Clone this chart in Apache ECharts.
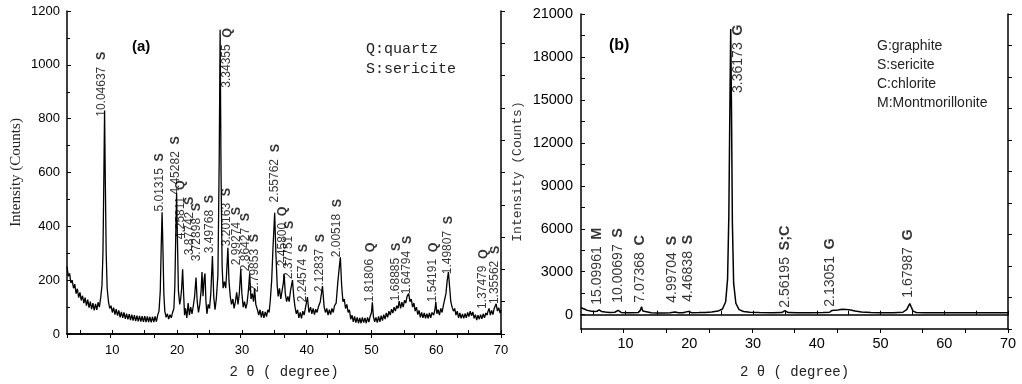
<!DOCTYPE html>
<html>
<head>
<meta charset="utf-8">
<script src="https://cdn.jsdelivr.net/npm/echarts@6/dist/echarts.min.js"></script>
<style>
  html, body { margin: 0; padding: 0; background: #fff; }
  #chart { width: 1022px; height: 384px; }
</style>
</head>
<body>
<div id="chart"></div>
<script>
// (a) sample pattern: [2theta, counts]
const aPattern = [
  [3.0,250],[3.2,215],[3.4,225],[3.6,190],[3.8,200],[4.0,170],[4.2,185],[4.4,150],[4.6,168],[4.8,135],
  [5.0,155],[5.2,125],[5.4,142],[5.6,115],[5.8,135],[6.0,105],[6.2,128],[6.4,98],[6.6,120],[6.8,92],
  [7.0,115],[7.2,88],[7.4,112],[7.6,90],[7.8,118],[8.0,100],[8.2,135],[8.4,180],[8.55,300],[8.68,560],
  [8.8,830],[8.92,560],[9.05,300],[9.2,170],[9.4,120],[9.6,95],[9.8,105],[10.0,80],[10.2,98],[10.4,72],
  [10.6,92],[10.8,68],[11.0,88],[11.2,62],[11.4,82],[11.6,60],[11.8,80],[12.0,56],[12.2,76],[12.4,54],
  [12.6,74],[12.8,52],[13.0,72],[13.2,50],[13.4,70],[13.6,48],[13.8,68],[14.0,47],[14.2,67],[14.4,46],
  [14.6,66],[14.8,45],[15.0,66],[15.2,44],[15.4,65],[15.6,44],[15.8,64],[16.0,43],[16.2,64],[16.4,44],
  [16.6,65],[16.8,46],[17.0,70],[17.2,85],[17.4,160],[17.55,330],[17.68,452],[17.8,330],[17.95,150],[18.1,85],
  [18.3,62],[18.5,75],[18.7,55],[18.9,72],[19.1,60],[19.3,80],[19.5,95],[19.65,180],[19.8,380],[19.92,525],
  [20.05,350],[20.2,160],[20.4,110],[20.55,130],[20.7,170],[20.85,240],[21.0,150],[21.15,70],[21.3,95],[21.5,60],
  [21.7,115],[21.9,70],[22.1,100],[22.3,75],[22.5,105],[22.7,140],[22.92,210],[23.1,120],[23.3,80],[23.5,110],
  [23.7,160],[23.84,230],[24.0,140],[24.15,200],[24.3,225],[24.45,120],[24.6,75],[24.8,110],[25.0,95],[25.2,150],
  [25.45,290],[25.65,140],[25.85,90],[26.05,130],[26.3,220],[26.5,650],[26.64,1130],[26.78,600],[26.95,250],[27.1,170],
  [27.3,195],[27.5,170],[27.65,230],[27.84,320],[28.0,200],[28.2,140],[28.4,110],[28.6,130],[28.8,95],[29.0,120],
  [29.2,155],[29.4,110],[29.6,150],[29.83,240],[30.0,150],[30.2,100],[30.4,120],[30.6,95],[30.8,115],[31.0,160],
  [31.2,225],[31.4,130],[31.6,150],[31.8,120],[31.96,170],[32.15,110],[32.4,90],[32.6,70],[32.8,90],[33.0,62],
  [33.2,85],[33.4,60],[33.6,82],[33.8,65],[34.0,90],[34.2,80],[34.4,130],[34.6,200],[34.8,320],[35.06,450],
  [35.25,300],[35.45,180],[35.6,140],[35.8,170],[36.0,130],[36.2,160],[36.4,190],[36.52,222],[36.7,150],[36.9,120],
  [37.1,140],[37.3,120],[37.5,160],[37.81,200],[38.0,140],[38.2,100],[38.4,75],[38.6,90],[38.8,60],[39.0,80],
  [39.2,58],[39.4,85],[39.6,70],[39.8,95],[40.12,137],[40.35,80],[40.6,100],[40.8,75],[41.0,95],[41.2,72],
  [41.4,92],[41.6,80],[41.8,100],[42.1,120],[42.44,178],[42.7,100],[42.9,80],[43.1,95],[43.3,70],[43.5,90],
  [43.7,72],[43.9,95],[44.1,80],[44.3,105],[44.55,115],[44.8,190],[45.0,240],[45.2,285],[45.4,180],[45.6,120],
  [45.8,130],[46.0,95],[46.2,110],[46.4,80],[46.6,90],[46.8,55],[47.0,70],[47.2,45],[47.4,65],[47.6,42],
  [47.8,62],[48.0,40],[48.2,60],[48.4,40],[48.6,62],[48.8,42],[49.0,60],[49.2,40],[49.4,62],[49.6,44],
  [49.8,65],[50.0,80],[50.14,118],[50.3,65],[50.5,45],[50.7,62],[50.9,42],[51.1,65],[51.3,45],[51.5,68],
  [51.7,50],[51.9,72],[52.1,55],[52.3,78],[52.5,62],[52.7,85],[52.9,70],[53.1,92],[53.3,78],[53.5,100],
  [53.7,85],[53.9,105],[54.1,95],[54.28,122],[54.5,95],[54.7,118],[54.9,100],[55.1,125],[55.3,115],[55.5,140],
  [55.74,150],[55.95,120],[56.15,130],[56.35,100],[56.55,115],[56.75,85],[56.95,100],[57.15,72],[57.35,88],[57.55,62],
  [57.75,80],[57.95,60],[58.15,78],[58.35,58],[58.55,76],[58.75,58],[58.95,78],[59.15,60],[59.35,80],[59.6,70],
  [59.8,90],[59.94,120],[60.1,75],[60.3,90],[60.5,70],[60.7,95],[60.9,80],[61.1,105],[61.3,110],[61.5,150],
  [61.7,200],[61.88,230],[62.05,180],[62.25,120],[62.45,100],[62.65,85],[62.85,95],[63.05,70],[63.25,85],[63.45,60],
  [63.65,78],[63.85,58],[64.05,75],[64.25,58],[64.45,76],[64.65,60],[64.85,80],[65.05,65],[65.25,85],[65.45,68],
  [65.65,82],[65.85,58],[66.05,72],[66.25,52],[66.45,70],[66.65,55],[66.85,72],[67.05,56],[67.25,75],[67.45,60],
  [67.65,78],[67.85,70],[68.0,85],[68.16,95],[68.35,70],[68.55,88],[68.75,72],[68.95,95],[69.1,100],[69.25,112],
  [69.45,85],[69.65,98],[69.85,78],[70.0,88]
];

// (a) peak labels: where each label starts, d-spacing, phase
const aLabelTheta  = [8.41, 17.3, 19.83, 20.6, 21.92, 23.0, 25.0, 27.71, 27.7, 29.25, 30.57, 31.96, 35.12, 36.28, 37.29, 39.45, 42.07, 44.7, 49.8, 53.81, 55.51, 59.52, 61.84, 67.25, 69.1];
const aLabelCounts = [807, 455, 518, 352, 293, 270, 300, 915, 326, 255, 233, 155, 489, 252, 204, 118, 155, 285, 118, 122, 148, 118, 222, 93, 111];
const aLabelD      = ['10.04637','5.01315','4.45282','4.25811','3.87742','3.72898','3.49768','3.34355','3.20163','2.99274','2.86427','2.79853','2.55762','2.45800','2.37751','2.24574','2.12837','2.00518','1.81806','1.68885','1.64794','1.54191','1.49807','1.37479','1.35562'];
const aLabelPhase  = ['S','S','S','Q','S','S','S','Q','S','S','S','S','S','Q','S','S','S','S','Q','S','S','Q','S','Q','S'];

// (b) sample pattern: [2theta, counts]
const bPattern = [
  [3.0,480],[3.3,430],[3.6,380],[4.0,300],[4.5,250],[5.0,220],[5.5,240],[5.85,330],[6.2,230],[6.8,180],
  [7.5,160],[8.3,170],[8.83,300],[9.3,160],[10.0,140],[11.0,140],[12.0,160],[12.3,300],[12.5,550],[12.7,250],
  [13.0,150],[14.0,130],[15.0,125],[16.0,125],[17.0,130],[17.74,190],[18.3,130],[19.0,135],[19.85,230],[20.4,140],
  [21.5,150],[22.5,160],[23.5,180],[24.5,250],[25.2,400],[25.7,900],[26.0,2500],[26.2,7000],[26.35,14000],[26.49,19950],
  [26.62,14000],[26.75,6500],[26.95,2200],[27.3,800],[27.8,350],[28.5,220],[29.5,170],[31.0,150],[33.0,140],[34.5,150],
  [35.0,280],[35.5,150],[37.0,140],[39.0,140],[41.0,150],[42.0,170],[42.39,300],[42.7,220],[43.3,330],[44.0,380],
  [44.6,370],[45.3,320],[46.0,250],[47.0,180],[48.5,150],[50.0,140],[52.0,140],[53.5,170],[54.1,350],[54.4,620],
  [54.59,780],[54.8,550],[55.1,250],[55.6,150],[57.0,140],[60.0,140],[63.0,135],[66.0,135],[68.0,140],[70.0,135]
];

const bLabelTheta  = [27.66, 5.51, 8.81, 12.27, 17.29, 19.81, 35.05, 42.11, 54.37];
const bLabelCounts = [15488, 698, 837, 837, 837, 907, 488, 558, 1186];
const bLabelD      = ['3.36173','15.09961','10.00697','7.07368','4.99704','4.46838','2.56195','2.13051','1.67987'];
const bLabelPhase  = ['G','M','S','C','S','S','S;C','G','G'];

// tick labels
const thetaTicks = [10, 20, 30, 40, 50, 60, 70];
const thetaMinorTicks = [5, 10, 15, 20, 25, 30, 35, 40, 45, 50, 55, 60, 65, 70];
const bCountTicks = [0, 3000, 6000, 9000, 12000, 15000, 18000, 21000];
const bCountMinorTicks = [0, 1500, 3000, 4500, 6000, 7500, 9000, 10500, 12000, 13500, 15000, 16500, 18000, 19500, 21000];

const chart = echarts.init(document.getElementById('chart'));

const black = '#000';
const sans = 'Liberation Sans, Arial, sans-serif';
const mono = 'Liberation Mono, monospace';
const plain = v => String(v);

const bottomAxis = (gridIndex, labelSize, margin, nameGap) => ({
  type: 'value', gridIndex, min: 3, max: 70, position: 'bottom',
  name: '2 θ ( degree)', nameLocation: 'middle', nameGap, nameMoveOverlap: false,
  nameTextStyle: { fontFamily: mono, fontSize: 14, color: '#222' },
  axisLine: { lineStyle: { color: black, width: 1.5 } },
  axisTick: { inside: true, length: 4, customValues: thetaMinorTicks, lineStyle: { color: black } },
  axisLabel: { customValues: thetaTicks, formatter: plain, color: black, fontFamily: sans, fontSize: labelSize, margin },
  splitLine: { show: false }
});

const topAxis = (gridIndex) => ({
  type: 'value', gridIndex, min: 0, max: 10, interval: 1, position: 'top',
  axisLine: { lineStyle: { color: black, width: 1.5 } },
  axisTick: { inside: true, length: 4, lineStyle: { color: black } },
  axisLabel: { show: false }, splitLine: { show: false }
});

const rightAxis = (gridIndex) => ({
  type: 'value', gridIndex, min: 0, max: 10, interval: 1, position: 'right',
  axisLine: { lineStyle: { color: black, width: 1.5 } },
  axisTick: { inside: false, length: 4, lineStyle: { color: black } },
  axisLabel: { show: false }, splitLine: { show: false }
});

const peakLabels = (thetas, counts, ds, phases) =>
  thetas.map((t, i) => ({ value: [t, counts[i]], d: ds[i], p: phases[i] }));

const labelSeries = (xi, yi, data, numSize, letterSize) => ({
  type: 'scatter', xAxisIndex: xi, yAxisIndex: yi, data,
  symbolSize: 1, itemStyle: { color: 'rgba(0,0,0,0)' }, silent: true,
  label: {
    show: true, position: 'inside', rotate: 90, align: 'left', verticalAlign: 'middle',
    formatter: p => `{n|${p.data.d}}  {b|${p.data.p}}`,
    rich: {
      n: { fontFamily: sans, fontSize: numSize, color: black },
      b: { fontFamily: sans, fontSize: letterSize, fontWeight: 'bold', color: black }
    }
  }
});

const option = {
  animation: false,
  backgroundColor: '#fff',
  grid: [
    { left: 67, top: 11, right: 521, bottom: 49 },
    { left: 581, top: 14, right: 14, bottom: 55 }
  ],
  xAxis: [
    bottomAxis(0, 13, 10, 31),
    topAxis(0),
    bottomAxis(1, 14.5, 7, 36),
    topAxis(1)
  ],
  yAxis: [
    {
      type: 'value', gridIndex: 0, min: 0, max: 1200, interval: 200,
      name: 'Intensity (Counts)', nameLocation: 'middle', nameGap: 43, nameMoveOverlap: false,
      nameTextStyle: { fontFamily: 'Liberation Serif, serif', fontSize: 15, color: '#222' },
      axisLine: { show: true, lineStyle: { color: black, width: 1.5 } },
      axisTick: { inside: true, length: 4, lineStyle: { color: black } },
      minorTick: { show: true, splitNumber: 2, length: 3, lineStyle: { color: black } },
      axisLabel: { formatter: plain, color: black, fontFamily: sans, fontSize: 13, margin: 7 },
      splitLine: { show: false }
    },
    rightAxis(0),
    {
      type: 'value', gridIndex: 1, min: -1000, max: 21000,
      name: 'Intensity (Counts)', nameLocation: 'middle', nameGap: 57, nameMoveOverlap: false,
      nameTextStyle: { fontFamily: mono, fontSize: 13, color: '#333' },
      axisLine: { show: true, lineStyle: { color: black, width: 1.5 } },
      axisTick: { inside: true, length: 4, customValues: bCountMinorTicks, lineStyle: { color: black } },
      axisLabel: { customValues: bCountTicks, formatter: plain, color: black, fontFamily: sans, fontSize: 14.5, margin: 8 },
      splitLine: { show: false }
    },
    rightAxis(1)
  ],
  graphic: [
    { type: 'text', left: 132, top: 39, style: { text: '(a)', font: 'bold 15px Liberation Sans', fill: black } },
    { type: 'text', left: 366, top: 39, style: { text: 'Q:quartz\nS:sericite', font: '15px Liberation Mono', lineHeight: 20, fill: '#222' } },
    { type: 'text', left: 609, top: 38, style: { text: '(b)', font: 'bold 16px Liberation Sans', fill: black } },
    { type: 'text', left: 877, top: 36, style: { text: 'G:graphite\nS:sericite\nC:chlorite\nM:Montmorillonite', font: '14px Liberation Sans', lineHeight: 19.3, fill: '#222' } }
  ],
  series: [
    {
      type: 'line', xAxisIndex: 0, yAxisIndex: 0, data: aPattern,
      showSymbol: false, symbol: 'none', lineStyle: { color: black, width: 1.3 }
    },
    labelSeries(0, 0, peakLabels(aLabelTheta, aLabelCounts, aLabelD, aLabelPhase), 12, 12.5),
    {
      type: 'line', xAxisIndex: 2, yAxisIndex: 2, data: bPattern,
      showSymbol: false, symbol: 'none', lineStyle: { color: black, width: 1.5 }
    },
    labelSeries(2, 2, peakLabels(bLabelTheta, bLabelCounts, bLabelD, bLabelPhase), 14, 14.5)
  ]
};

chart.setOption(option);
</script>
</body>
</html>
